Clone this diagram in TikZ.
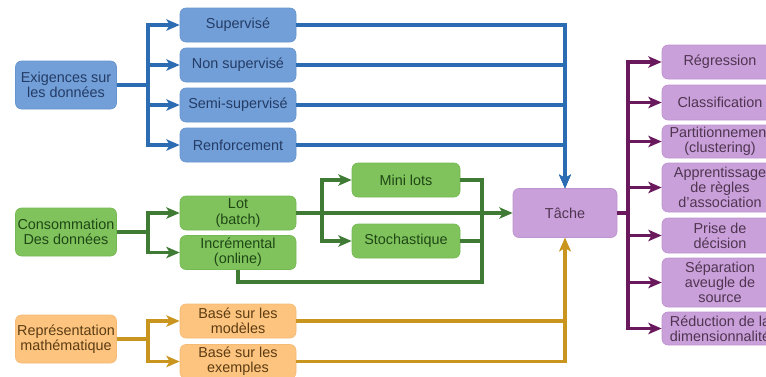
\documentclass[tikz,border=0pt]{standalone}
\usepackage{fontspec}
\setmainfont{Liberation Sans}
\usetikzlibrary{arrows.meta}

\definecolor{cBlueFill}{HTML}{729FD8}
\definecolor{cBlueEdge}{HTML}{6694CE}
\definecolor{cBlueLine}{HTML}{2B6CB3}
\definecolor{cBlueText}{HTML}{243C66}
\definecolor{cGreenFill}{HTML}{80C35C}
\definecolor{cGreenEdge}{HTML}{74B852}
\definecolor{cGreenLine}{HTML}{3F7B34}
\definecolor{cGreenText}{HTML}{1F4716}
\definecolor{cOrangeFill}{HTML}{FDC47F}
\definecolor{cOrangeEdge}{HTML}{F5BA74}
\definecolor{cOrangeLine}{HTML}{C9951F}
\definecolor{cOrangeText}{HTML}{5C3C12}
\definecolor{cPurpleFill}{HTML}{C9A0DA}
\definecolor{cPurpleEdge}{HTML}{BE94D0}
\definecolor{cPurpleLine}{HTML}{6A1A5C}
\definecolor{cPurpleText}{HTML}{4F3550}

\tikzset{
  box/.style={rounded corners=4.5pt, align=center, inner sep=1pt, line width=0.5pt,
    font=\fontsize{10.8}{11.4}\selectfont},
  bluebox/.style={box, fill=cBlueFill, draw=cBlueEdge, text=cBlueText},
  greenbox/.style={box, fill=cGreenFill, draw=cGreenEdge, text=cGreenText},
  orangebox/.style={box, fill=cOrangeFill, draw=cOrangeEdge, text=cOrangeText},
  purplebox/.style={box, fill=cPurpleFill, draw=cPurpleEdge, text=cPurpleText},
  rootbox/.style={minimum width=75.75pt, minimum height=36pt},
  leafbox/.style={minimum width=87pt, minimum height=25.5pt},
  bline/.style={line width=2.3pt, draw=cBlueLine},
  gline/.style={line width=2.3pt, draw=cGreenLine},
  oline/.style={line width=2.3pt, draw=cOrangeLine},
  pline/.style={line width=2.3pt, draw=cPurpleLine},
  arr/.style={-{Stealth[length=10pt,width=8.5pt,inset=2.5pt]}},
}

\begin{document}
\begin{tikzpicture}[x=0.75pt,y=-0.75pt]
	\useasboundingbox (0,0) rectangle (766,376);

	% Exigences sur les donnees
	\node[bluebox,rootbox] (exig) at (66,85) {Exigences sur\\les données};
	\node[bluebox,leafbox] (sup) at (238,25) {Supervisé};
	\node[bluebox,leafbox] (nonsup) at (238,65) {Non supervisé};
	\node[bluebox,leafbox] (semi) at (238,105) {Semi-supervisé};
	\node[bluebox,leafbox] (renf) at (238,145) {Renforcement};
	\coordinate (bfork) at (148,85);

	% Consommation des donnees
	\node[greenbox,rootbox] (conso) at (66,232) {Consommation\\Des données};
	\node[greenbox,leafbox] (lot) at (238,213) {Lot\\(batch)};
	\node[greenbox,leafbox] (incr) at (238,252.5) {Incrémental\\(online)};
	\node[greenbox,minimum width=81pt,minimum height=25.5pt] (mini) at (406,180) {Mini lots};
	\node[greenbox,minimum width=81pt,minimum height=25.5pt] (stoch) at (406,241) {Stochastique};
	\coordinate (gfork) at (148,232);
	\coordinate (mfork) at (322,213);
	\coordinate (gjoin) at (482,282);

	% Representation mathematique
	\node[orangebox,rootbox] (repr) at (66,339) {Représentation\\mathématique};
	\node[orangebox,leafbox] (mod) at (238,321) {Basé sur les\\modèles};
	\node[orangebox,leafbox] (exe) at (238,361.5) {Basé sur les\\exemples};
	\coordinate (ofork) at (148,339);

	% Tache
	\node[purplebox,minimum width=78pt,minimum height=36.75pt] (tache) at (565,213) {Tâche};
	\coordinate (pfork) at (628,213);
	\node[purplebox,leafbox] (reg) at (720,62) {Régression};
	\node[purplebox,leafbox,minimum height=26.25pt] (cls) at (720,102.5) {Classification};
	\node[purplebox,leafbox,minimum height=24.75pt] (part) at (720,141.5) {Partitionnement\\(clustering)};
	\node[purplebox,leafbox,minimum height=36.75pt] (appr) at (720,187.5) {Apprentissage\\de règles\\d'association};
	\node[purplebox,leafbox,minimum height=26.25pt] (prise) at (720,235.5) {Prise de\\décision};
	\node[purplebox,leafbox,minimum height=36.75pt] (sep) at (720,282.5) {Séparation\\aveugle de\\source};
	\node[purplebox,leafbox,minimum height=24.75pt] (red) at (720,328.5) {Réduction de la\\dimensionnalité};

	% Blue connectors
	\draw[bline] (exig.east) -- (bfork);
	\foreach \n in {sup,nonsup,semi,renf} {
		\draw[bline,arr] (bfork) |- (\n.west);
		\draw[bline,arr] (\n.east) -| (tache.north);
	}

	% Green connectors
	\draw[gline] (conso.east) -- (gfork);
	\draw[gline,arr] (gfork) |- (lot.west);
	\draw[gline,arr] (gfork) |- (incr.west);
	\draw[gline,arr] (lot.east) -- (tache.west);
	\draw[gline,arr] (mfork) |- (mini.west);
	\draw[gline,arr] (mfork) |- (stoch.west);
	\draw[gline] (mini.east) -| (gjoin) -| (incr.south);
	\draw[gline] (stoch.east) -- (stoch.east -| gjoin);

	% Orange connectors
	\draw[oline] (repr.east) -- (ofork);
	\draw[oline,arr] (ofork) |- (mod.west);
	\draw[oline,arr] (ofork) |- (exe.west);
	\draw[oline,arr] (mod.east) -| (tache.south);
	\draw[oline,arr] (exe.east) -| (tache.south);

	% Purple connectors
	\draw[pline] (tache.east) -- (pfork);
	\foreach \n in {reg,cls,part,appr,prise,sep,red}
		\draw[pline,arr] (pfork) |- (\n.west);

\end{tikzpicture}
\end{document}
